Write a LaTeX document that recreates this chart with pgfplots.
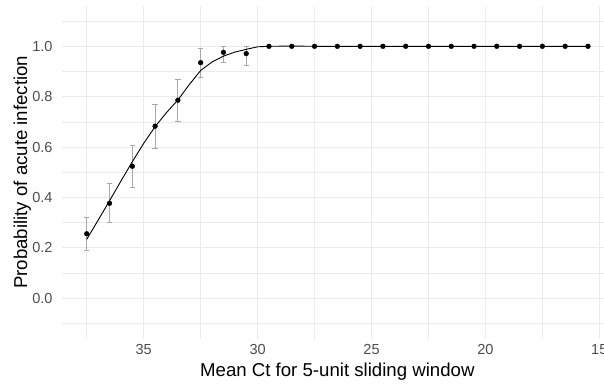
\documentclass[border=0pt]{standalone}
\usepackage{pgfplots}
\pgfplotsset{compat=1.18}
\usepackage{pgfplotstable}
\usepackage{fontspec}
\setmainfont{Liberation Sans}
\definecolor{gridc}{HTML}{EBEBEB}
\definecolor{tickc}{HTML}{4D4D4D}
\definecolor{errc}{HTML}{A8A8A8}

\pgfplotstableread{
x y ep em
37.5 0.256 0.065 0.064
36.5 0.377 0.077 0.075
35.5 0.524 0.083 0.085
34.5 0.683 0.085 0.087
33.5 0.786 0.083 0.085
32.5 0.935 0.055 0.057
31.5 0.976 0.024 0.038
30.5 0.971 0.029 0.046
}\errs

\pgfplotstableread{
x y
37.5 0.256
36.5 0.377
35.5 0.524
34.5 0.683
33.5 0.786
32.5 0.935
31.5 0.976
30.5 0.971
29.5 1.000
28.5 1.000
27.5 1.000
26.5 1.000
25.5 1.000
24.5 1.000
23.5 1.000
22.5 1.000
21.5 1.000
20.5 1.000
19.5 1.000
18.5 1.000
17.5 1.000
16.5 1.000
15.5 1.000
}\pts

\pgfplotstableread{
x y
37.5 0.234
37.0 0.310
36.5 0.387
36.0 0.465
35.5 0.542
35.0 0.615
34.5 0.681
34.0 0.737
33.5 0.787
33.0 0.848
32.5 0.904
32.0 0.938
31.5 0.961
31.0 0.977
30.5 0.988
30.0 0.998
29.5 1.000
28.5 1.001
27.5 1.000
15.5 1.000
}\fit

\begin{document}
\begin{tikzpicture}
\begin{axis}[
  scale only axis,
  width=551.3bp, height=332.6bp,
  xmin=14.4, xmax=38.6, x dir=reverse,
  ymin=-0.16, ymax=1.16,
  xtick={15,20,25,30,35},
  minor xtick={17.5,22.5,27.5,32.5,37.5},
  ytick={0,0.2,0.4,0.6,0.8,1.0},
  minor ytick={-0.1,0.1,0.3,0.5,0.7,0.9,1.1},
  grid=both,
  major grid style={draw=gridc, line width=1.1bp},
  minor grid style={draw=gridc, line width=0.55bp},
  axis line style={draw=none},
  tick style={draw=none},
  /pgf/number format/assume math mode=true,
  yticklabel style={/pgf/number format/fixed, /pgf/number format/fixed zerofill, /pgf/number format/precision=1,
    anchor=east, inner sep=0pt, xshift=-9bp},
  xticklabel style={anchor=north, inner sep=0pt, yshift=-6bp},
  tick label style={font=\fontsize{14.6}{17}\selectfont, text=tickc},
  xlabel={Mean Ct for 5-unit sliding window},
  ylabel={Probability of acute infection},
  label style={font=\fontsize{18.7}{22}\selectfont, text=black},
  xlabel style={at={(axis description cs:0.5,-0.0713)}, anchor=north, inner sep=0pt},
  ylabel style={at={(axis description cs:-0.0874,0.5)}, anchor=north, inner sep=0pt},
]
\addplot[draw=none, mark=none, forget plot,
  error bars/.cd, y dir=both, y explicit,
  error bar style={draw=errc, line width=0.8bp},
  error mark options={draw=errc, rotate=90, mark size=2.7bp, line width=0.8bp}]
  table[x=x, y=y, y error plus=ep, y error minus=em]{\errs};
\addplot[black, line width=0.9bp, mark=none] table[x=x, y=y]{\fit};
\addplot[only marks, mark=*, mark size=2.4bp, black] table[x=x, y=y]{\pts};
\end{axis}
\pgfresetboundingbox
\path[use as bounding box] (current axis.south west) ++(-61.7bp,-46.4bp) rectangle ++(604bp,385bp);
\end{tikzpicture}
\end{document}
